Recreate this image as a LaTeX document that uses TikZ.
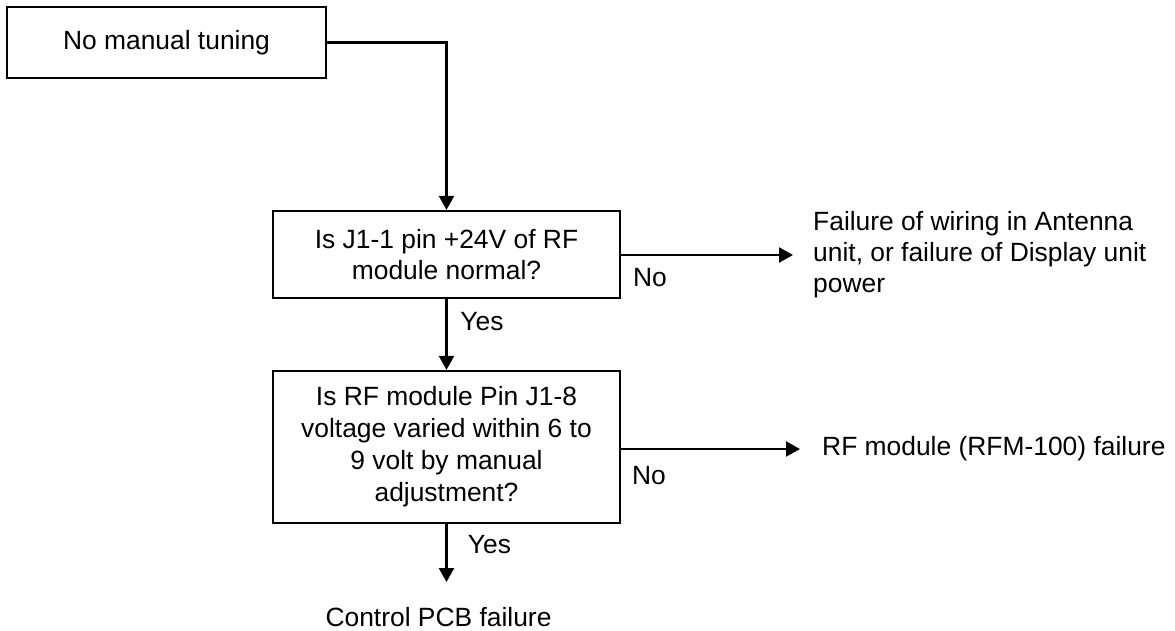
\documentclass[tikz,border=0pt]{standalone}
\usepackage{fontspec}
\setmainfont{Liberation Sans}
\usetikzlibrary{arrows.meta}
\begin{document}
\begin{tikzpicture}[x=1pt,y=-1pt,
  every node/.style={font=\fontsize{26.4}{31}\selectfont},
  box/.style={draw, line width=2.2pt, align=center, inner sep=0pt},
  conn/.style={line width=2.5pt, -{Triangle[length=14pt,width=15pt]}}]
\useasboundingbox (0,0) rectangle (1175,631);
\node[box, minimum width=319pt, minimum height=71pt] (start) at (166.5,42.5) {No manual tuning};
\node[box, minimum width=347pt, minimum height=87pt] (q1) at (446.5,254.5) {Is J1-1 pin +24V of RF\\module normal?};
\node[box, minimum width=347pt, minimum height=152pt, font=\fontsize{26.4}{32}\selectfont] (q2) at (446.5,447) {Is RF module Pin J1-8\\voltage varied within 6 to\\9 volt by manual\\adjustment?};
\node[anchor=west, align=left, inner xsep=20pt, inner ysep=0pt] (r1) at (793,255) {Failure of wiring in Antenna\\unit, or failure of Display unit\\power};
\node[anchor=west, inner xsep=22pt] (r2) at (800,449) {RF module (RFM-100) failure};
\node[anchor=north, inner ysep=25pt] (r3) at (438.5,582) {Control PCB failure};
\node (no1) at (650,278) {No};
\node (yes1) at (482,322) {Yes};
\node (no2) at (649,476) {No};
\node (yes2) at (489.5,545) {Yes};
\draw[conn] (start.east) -| (q1.north);
\draw[conn] (q1.south) -- (q2.north);
\draw[conn] (q1.east |- r1.west) -- (r1.west);
\draw[conn] (q2.east |- r2.west) -- (r2.west);
\draw[conn] (q2.south) -- (q2.south |- r3.north);
\end{tikzpicture}
\end{document}
